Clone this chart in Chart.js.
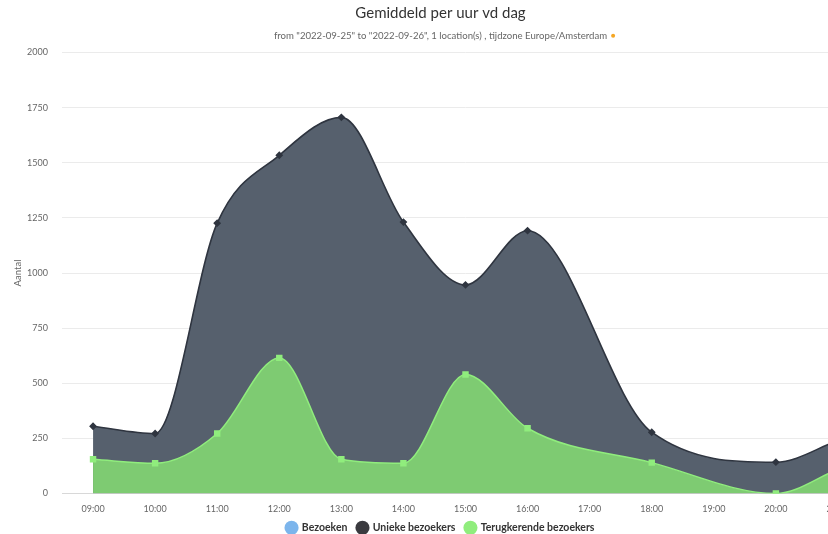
<!DOCTYPE html>
<html>
<head>
<meta charset="utf-8">
<script src="https://cdn.jsdelivr.net/npm/chart.js@4/dist/chart.umd.min.js"></script>
<style>
  html, body { margin: 0; padding: 0; background: #fff; overflow: hidden; }
  #wrap { width: 880px; height: 534px; }
</style>
</head>
<body>
<div id="wrap"><canvas id="uur-chart"></canvas></div>
<script>
// Uren van de dag (categorie-as)
const uren = ['09:00', '10:00', '11:00', '12:00', '13:00', '14:00', '15:00',
              '16:00', '17:00', '18:00', '19:00', '20:00', '21:00'];

// Gemiddelden per uur, null = geen meting
const bezoeken = [];
const uniekeBezoekers = [305, 272, 1226, 1534, 1706, 1231, 946, 1192, null, 278, null, 142, 240];
const terugkerend     = [155, 137, 272, 615, 155, 137, 540, 296, null, 140, null, 0, 110];

const yTicks = [0, 250, 500, 750, 1000, 1250, 1500, 1750, 2000];

const kleurBlauw = '#7cb5ec';
const kleurDonker = '#2f3540';
const kleurGroen = '#90ed7d';

const subtitelTekst = 'from "2022-09-25" to "2022-09-26", 1 location(s) , tijdzone Europe/Amsterdam';
const subtitelFont = { family: 'Lato, sans-serif', size: 9.6 };

// oranje bolletje achter de subtitel
const subtitelDot = {
    id: 'subtitelDot',
    afterDraw(chart) {
        const st = chart.boxes.find(b => b.options && b.options.text === subtitelTekst);
        if (!st) return;
        const ctx = chart.ctx;
        ctx.save();
        ctx.font = subtitelFont.size + 'px ' + subtitelFont.family;
        const w = ctx.measureText(subtitelTekst).width;
        const cx = (st.left + st.right) / 2 + w / 2 + 6;
        const cy = st.top + subtitelFont.size * 0.6;
        ctx.fillStyle = '#f5a623';
        ctx.beginPath();
        ctx.arc(cx, cy, 2, 0, Math.PI * 2);
        ctx.fill();
        ctx.restore();
    }
};

const ctx = document.getElementById('uur-chart').getContext('2d');

new Chart(ctx, {
    type: 'line',
    data: {
        labels: uren,
        datasets: [
            {
                label: 'Bezoeken',
                data: bezoeken,
                borderColor: kleurBlauw,
                backgroundColor: kleurBlauw,
                order: 2
            },
            {
                label: 'Unieke bezoekers',
                data: uniekeBezoekers,
                borderColor: kleurDonker,
                backgroundColor: '#56606d',
                fill: 'origin',
                borderWidth: 1.6,
                cubicInterpolationMode: 'monotone',
                spanGaps: true,
                pointStyle: 'rectRot',
                pointRadius: 2.8,
                pointBackgroundColor: kleurDonker,
                pointBorderColor: kleurDonker,
                legendColor: '#3a3a3f',
                order: 1
            },
            {
                label: 'Terugkerende bezoekers',
                data: terugkerend,
                borderColor: kleurGroen,
                backgroundColor: '#7ecb72',
                fill: 'origin',
                borderWidth: 1.5,
                cubicInterpolationMode: 'monotone',
                spanGaps: true,
                pointStyle: 'rect',
                pointRadius: 3.5,
                pointBackgroundColor: kleurGroen,
                pointBorderColor: kleurGroen,
                order: 0
            }
        ]
    },
    options: {
        responsive: true,
        maintainAspectRatio: false,
        animation: false,
        layout: { padding: { left: 12, right: 11, top: 4, bottom: -9 } },
        scales: {
            x: {
                offset: true,
                grid: { display: false },
                border: { color: '#d8d8d8' },
                ticks: {
                    color: '#666',
                    font: { family: 'Lato, sans-serif', size: 9 },
                    padding: 2,
                    maxRotation: 0,
                    autoSkip: false
                },
                afterFit: (s) => { s.height = 19; }
            },
            y: {
                min: 0,
                max: 2000,
                afterBuildTicks: (s) => { s.ticks = yTicks.map(v => ({ value: v })); },
                grid: { color: '#ebebeb', drawTicks: false },
                border: { display: false },
                ticks: {
                    color: '#666',
                    font: { family: 'Lato, sans-serif', size: 9 },
                    padding: 14,
                    callback: (v) => String(v)
                },
                title: {
                    display: true,
                    text: 'Aantal',
                    color: '#666',
                    font: { family: 'Lato, sans-serif', size: 9.5 },
                    padding: { top: 0, bottom: 4 }
                },
                afterFit: (s) => { s.width = 50; }
            }
        },
        plugins: {
            title: {
                display: true,
                text: 'Gemiddeld per uur vd dag',
                color: '#333',
                font: { family: 'Lato, sans-serif', size: 15, weight: 'normal' },
                padding: { top: 0, bottom: 8 }
            },
            subtitle: {
                display: true,
                text: subtitelTekst,
                color: '#666',
                font: subtitelFont,
                padding: { top: 0, bottom: 11 }
            },
            legend: {
                position: 'bottom',
                labels: {
                    color: '#333',
                    font: { family: 'Lato, sans-serif', size: 10.5, weight: 'bold' },
                    usePointStyle: true,
                    boxWidth: 10,
                    boxHeight: 10,
                    padding: 10,
                    generateLabels: (chart) => chart.data.datasets.map((ds, i) => ({
                        text: ds.label,
                        fillStyle: ds.legendColor || ds.borderColor,
                        strokeStyle: ds.legendColor || ds.borderColor,
                        lineWidth: 0,
                        pointStyle: 'circle',
                        fontColor: '#333',
                        datasetIndex: i
                    }))
                }
            },
            tooltip: { enabled: false }
        }
    },
    plugins: [subtitelDot]
});
</script>
</body>
</html>
